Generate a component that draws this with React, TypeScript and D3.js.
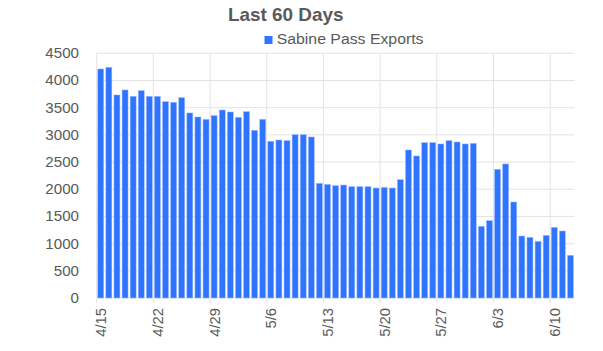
import React from 'react';
import * as d3 from 'd3';

const title = 'Last 60 Days';
const seriesName = 'Sabine Pass Exports';

// 4/15 .. 6/12, one bar per day
const dates = d3.timeDays(new Date(2019, 3, 15), new Date(2019, 5, 13));
const exports = [
  4212, 4243, 3734, 3826, 3709, 3814, 3709, 3709, 3611, 3599,
  3685, 3403, 3329, 3286, 3354, 3458, 3421, 3323, 3427, 3084,
  3286, 2882, 2906, 2894, 3004, 3004, 2961, 2109, 2091, 2066,
  2078, 2048, 2048, 2048, 2023, 2035, 2023, 2177, 2722, 2612,
  2857, 2857, 2833, 2894, 2869, 2833, 2845, 1318, 1422, 2367,
  2465, 1766, 1140, 1116, 1042, 1153, 1300, 1232, 785,
];
const yTicks = [0, 500, 1000, 1500, 2000, 2500, 3000, 3500, 4000, 4500];

const W = 603;
const H = 351;
const margin = { top: 53.3, right: 28.5, bottom: 53, left: 96.7 };
const font = 'Liberation Sans, Arial, sans-serif';
const textColor = '#595959';

export default function App() {
  const svgRef = React.useRef(null);

  React.useEffect(() => {
    const svg = d3.select(svgRef.current);
    svg.selectAll('*').remove();

    const fmt = d3.timeFormat('%-m/%-d');
    const cats = dates.map((d) => fmt(d));

    const x = d3
      .scaleBand()
      .domain(cats)
      .range([margin.left, W - margin.right])
      .paddingInner(0.26)
      .paddingOuter(0.13);

    const y = d3
      .scaleLinear()
      .domain([0, 4500])
      .range([H - margin.bottom, margin.top]);

    const step = x.step();
    const left0 = margin.left;
    const tickIdx = d3.range(0, cats.length, 7);

    // horizontal gridlines
    svg
      .append('g')
      .selectAll('line')
      .data(yTicks)
      .enter()
      .append('line')
      .attr('x1', margin.left)
      .attr('x2', W - margin.right)
      .attr('y1', (d) => y(d))
      .attr('y2', (d) => y(d))
      .attr('stroke', '#e3e3e3')
      .attr('stroke-width', 1);

    // vertical gridlines at weekly ticks (category boundaries)
    svg
      .append('g')
      .selectAll('line')
      .data(tickIdx)
      .enter()
      .append('line')
      .attr('x1', (i) => left0 + i * step)
      .attr('x2', (i) => left0 + i * step)
      .attr('y1', margin.top)
      .attr('y2', H - margin.bottom + 5)
      .attr('stroke', '#e3e3e3')
      .attr('stroke-width', 1);

    // bars
    svg
      .append('g')
      .selectAll('rect')
      .data(exports)
      .enter()
      .append('rect')
      .attr('x', (d, i) => x(cats[i]))
      .attr('y', (d) => y(d))
      .attr('width', x.bandwidth())
      .attr('height', (d) => y(0) - y(d))
      .attr('fill', '#2f74ff')
      .attr('stroke', '#9dbcff')
      .attr('stroke-width', 0.5);

    // y labels
    svg
      .append('g')
      .selectAll('text')
      .data(yTicks)
      .enter()
      .append('text')
      .attr('transform', (d) => `translate(79,${y(d)}) scale(1.08,1)`)
      .attr('dy', '0.35em')
      .attr('text-anchor', 'end')
      .attr('fill', textColor)
      .attr('font-family', font)
      .attr('font-size', 14)
      .text((d) => d);

    // x labels, rotated
    svg
      .append('g')
      .selectAll('text')
      .data(tickIdx)
      .enter()
      .append('text')
      .attr('transform', (i) => `translate(${left0 + i * step + 9.5},${H - margin.bottom + 10}) rotate(-90) scale(1.06,1)`)
      .attr('text-anchor', 'end')
      .attr('fill', textColor)
      .attr('font-family', font)
      .attr('font-size', 14)
      .text((i) => cats[i]);

    // title
    svg
      .append('text')
      .attr('transform', 'translate(285.7,20.7) scale(1.05,1)')
      .attr('text-anchor', 'middle')
      .attr('fill', textColor)
      .attr('font-family', font)
      .attr('font-size', 18)
      .attr('font-weight', 'bold')
      .text(title);

    // legend
    svg
      .append('rect')
      .attr('x', 264.5)
      .attr('y', 36)
      .attr('width', 8)
      .attr('height', 8)
      .attr('fill', '#2f74ff');

    svg
      .append('text')
      .attr('transform', 'translate(276.7,44.3) scale(1.055,1)')
      .attr('fill', textColor)
      .attr('font-family', font)
      .attr('font-size', 15)
      .text(seriesName);
  }, []);

  return (
    <svg
      ref={svgRef}
      width={W}
      height={H}
      style={{ position: 'absolute', left: 0, top: 0, background: '#fff' }}
    ></svg>
  );
}
